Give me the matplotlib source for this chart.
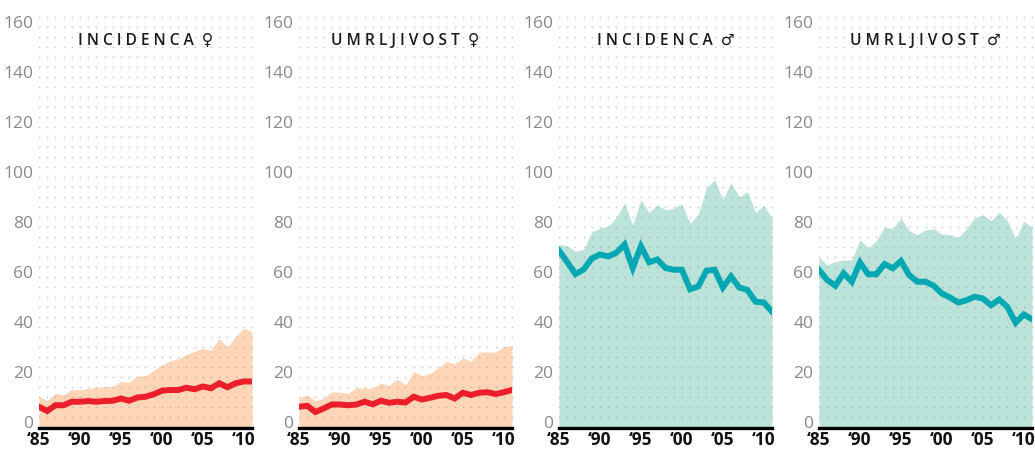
import numpy as np
import matplotlib
matplotlib.use('Agg')
import matplotlib.pyplot as plt

plt.rcParams['font.family'] = ['Open Sans', 'DejaVu Sans']

years = list(range(1985, 2012))
tick_years = [1985, 1990, 1995, 2000, 2005, 2010]
tick_labels = ['‘85', '‘90', '‘95', '‘00', '‘05', '‘10']
y_ticks = [0, 20, 40, 60, 80, 100, 120, 140, 160]

titles = ['I N C I D E N C A  ♀', 'U M R L J I V O S T  ♀',
          'I N C I D E N C A  ♂', 'U M R L J I V O S T  ♂']

# thick line (age-standardised) and shaded area (crude) per panel
inc_f_line = [6.1, 4.4, 6.7, 6.7, 8.1, 8.1, 8.4, 8.1, 8.4, 8.5, 9.4, 8.5, 9.8, 10.1,
              11.1, 12.5, 12.8, 12.8, 13.7, 13.1, 14.2, 13.5, 15.5, 13.9, 15.5, 16.2, 16.2]
inc_f_area = [10.4, 8.5, 11.5, 10.8, 13.1, 12.8, 13.5, 13.9, 14.2, 14.2, 16.2, 15.8, 18.5, 18.5,
              20.6, 22.9, 24.5, 25.3, 27.0, 28.3, 29.4, 28.7, 33.3, 30.1, 34.1, 37.5, 36.0]
mort_f_line = [6.1, 6.5, 4.0, 5.4, 7.0, 7.0, 6.7, 7.0, 8.1, 7.1, 8.5, 7.7, 8.1, 7.8,
               10.1, 9.0, 9.7, 10.5, 10.8, 9.4, 11.7, 10.8, 11.7, 11.9, 11.2, 11.9, 12.8]
mort_f_area = [9.7, 10.8, 8.5, 9.4, 12.1, 11.9, 11.5, 13.7, 13.7, 13.5, 15.5, 14.6, 17.1, 14.8,
               20.2, 18.5, 19.5, 21.6, 24.3, 23.2, 25.6, 24.3, 28.0, 28.0, 28.0, 30.1, 30.6]
inc_m_line = [68.6, 64.0, 59.2, 61.0, 65.4, 67.0, 66.2, 67.7, 71.0, 61.6, 70.3, 63.9, 65.0, 61.6,
              60.9, 60.9, 53.1, 54.2, 60.5, 60.9, 53.8, 58.2, 53.8, 52.8, 48.1, 47.8, 44.1]
inc_m_area = [71.0, 70.6, 68.3, 69.0, 76.1, 77.5, 78.4, 81.8, 87.6, 78.8, 88.8, 83.8, 86.9, 84.8,
              85.6, 87.2, 79.4, 83.2, 93.7, 96.9, 88.8, 95.7, 89.9, 92.2, 83.8, 86.5, 81.8]
mort_m_line = [60.8, 56.8, 54.5, 59.5, 56.1, 63.8, 59.1, 59.1, 63.2, 61.5, 64.4, 58.8, 56.1, 56.1,
               54.5, 51.4, 49.8, 47.8, 48.7, 50.1, 49.4, 46.7, 49.0, 46.0, 39.7, 43.0, 41.1]
mort_m_area = [65.9, 62.8, 64.2, 64.8, 64.8, 72.9, 69.5, 72.5, 77.9, 77.3, 81.6, 76.6, 74.9, 76.9,
               77.3, 75.2, 74.9, 73.8, 77.3, 81.6, 83.0, 80.5, 83.9, 80.5, 73.3, 80.3, 77.9]

panels = [
    (inc_f_line, inc_f_area, '#fdd6b8', '#ea1f2b'),
    (mort_f_line, mort_f_area, '#fdd6b8', '#ea1f2b'),
    (inc_m_line, inc_m_area, '#bce3da', '#03a8b2'),
    (mort_m_line, mort_m_area, '#bce3da', '#03a8b2'),
]

W, H = 1035, 450
fig = plt.figure(figsize=(W / 100, H / 100), dpi=100)

y_lo, y_hi = -2.4, 163.4
dot_rows = np.arange(2, 163, 4)
dx, dy = np.meshgrid(years, dot_rows)

for k, (line, area, fill_c, line_c) in enumerate(panels):
    left = 39 + 260 * k
    ax = fig.add_axes([left / W, (H - 428) / H, 213 / W, 414.5 / H])
    ax.set_xlim(years[0], years[-1])
    ax.set_ylim(y_lo, y_hi)
    ax.fill_between(years, y_lo, area, color=fill_c, lw=0, zorder=1)
    ax.scatter(dx.ravel(), dy.ravel(), s=1.4, color='#8c8c8c', alpha=0.5,
               lw=0, zorder=2, clip_on=True)
    ax.plot(years, line, color=line_c, lw=4.3, solid_joinstyle='miter', zorder=3)
    ax.axhline(y_lo, color='black', lw=2.4, zorder=4, clip_on=False)

    for s in ax.spines.values():
        s.set_visible(False)
    ax.set_yticks(y_ticks)
    ax.set_yticklabels([str(v) for v in y_ticks], color='#8a8a8a', fontsize=12.5)
    ax.set_xticks(tick_years)
    ax.set_xticklabels(tick_labels, fontsize=12.5, fontweight='bold', color='#111111')
    ax.tick_params(axis='both', length=0)
    ax.tick_params(axis='y', pad=4)
    ax.tick_params(axis='x', pad=2)

    ax.text(0.5, 152.6, titles[k], transform=ax.get_yaxis_transform(),
            ha='center', va='center', fontsize=11.2, fontweight='semibold',
            color='#1a1a1a', zorder=5)

fig.savefig('out.png', dpi=100)
